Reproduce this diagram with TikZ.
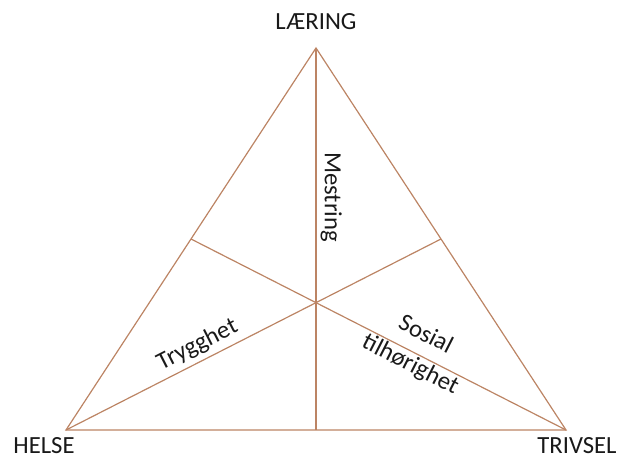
\documentclass[tikz,border=0pt]{standalone}
\usepackage{fontspec}
\setmainfont{Carlito}
\usetikzlibrary{calc}
\definecolor{edgec}{RGB}{188,132,100}
\definecolor{txt}{RGB}{25,25,25}
\begin{document}
\begin{tikzpicture}[x=0.75pt,y=-0.75pt,
  edge/.style={draw=edgec,line width=0.9pt},
  lbl/.style={text=txt,font=\fontsize{18.5}{21}\selectfont,inner sep=1pt}]
\useasboundingbox (0,0) rectangle (617,459);
\coordinate (T) at (316,48);
\coordinate (L) at (66,430);
\coordinate (R) at (566,430);
\coordinate (mB) at ($(L)!0.5!(R)$);
\coordinate (mR) at ($(T)!0.5!(R)$);
\coordinate (mL) at ($(T)!0.5!(L)$);
\draw[edge,line join=miter] (T) -- (L) -- (R) -- cycle;
\draw[edge] (T) -- node[lbl,sloped,above,pos=0.39,inner sep=3pt] (mes) {Mestring} (mB);
\draw[edge] (L) -- node[lbl,sloped,above,pos=0.37,inner sep=3.5pt] (tryg) {Trygghet} (mR);
\draw[edge] (mL) -- node[lbl,sloped,pos=0.6,align=center,yshift=3pt,font=\fontsize{18.5}{25}\selectfont] (sos) {Sosial\\tilhørighet} (R);
\node[lbl] (laering) at (316,22) {LÆRING};
\node[lbl] (helse) at (44,446) {HELSE};
\node[lbl] (trivsel) at (577,446) {TRIVSEL};
\end{tikzpicture}
\end{document}
